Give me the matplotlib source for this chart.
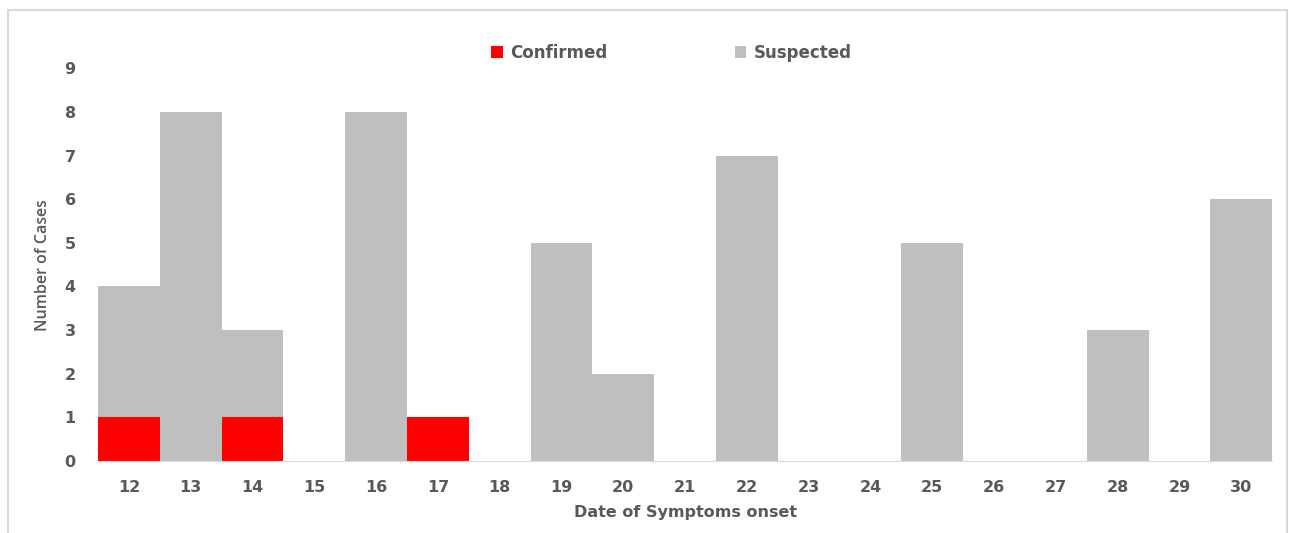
import numpy as np
import matplotlib.pyplot as plt
from matplotlib.patches import Rectangle

# data
days = [str(d) for d in range(12, 31)]
confirmed = [1, 0, 1, 0, 0, 1, 0, 0, 0, 0, 0, 0, 0, 0, 0, 0, 0, 0, 0]
suspected = [3, 8, 2, 0, 8, 0, 0, 5, 2, 0, 7, 0, 0, 5, 0, 0, 3, 0, 6]

txt = '#595959'
plt.rcParams['font.family'] = ['DejaVu Sans']

fig = plt.figure(figsize=(12.89, 5.33), dpi=100)
ax = fig.add_axes([0.076, 0.135, 0.911, 0.737])

x = np.arange(len(days))
ax.bar(x, confirmed, width=1.0, color='#ff0000', label='Confirmed')
ax.bar(x, suspected, width=1.0, bottom=confirmed, color='#bfbfbf', label='Suspected')

ax.set_xlim(-0.5, len(days) - 0.5)
ax.set_ylim(0, 9)
ax.set_xticks(x)
ax.set_xticklabels(days)
ax.set_yticks(range(10))
for s in ['top', 'right', 'left']:
    ax.spines[s].set_visible(False)
ax.spines['bottom'].set_color('#d9d9d9')
ax.tick_params(length=0, labelsize=11.5, colors=txt, pad=14)
ax.tick_params(axis='y', pad=16)
for lab in ax.get_xticklabels() + ax.get_yticklabels():
    lab.set_fontweight('bold')

ax.set_xlabel('Date of Symptoms onset', fontsize=11.5, color=txt, fontweight='bold', labelpad=7)
ax.set_ylabel('Number of Cases', fontsize=11.5, color=txt, fontweight='semibold',
              family='Open Sans', labelpad=10)

leg = fig.legend(loc='center', bbox_to_anchor=(0.521, 0.901), ncol=2, frameon=False,
                 handlelength=0.7, handleheight=0.7, columnspacing=7.6, handletextpad=0.45,
                 prop={'size': 12, 'weight': 'bold'})
for t in leg.get_texts():
    t.set_color(txt)

# outer chart frame
fig.patches.append(Rectangle((8 / 1289, -0.05), 1279 / 1289, 1.05 - 10 / 533,
                             transform=fig.transFigure, fill=False,
                             edgecolor='#d9d9d9', linewidth=1.5))

plt.savefig('out.png')
